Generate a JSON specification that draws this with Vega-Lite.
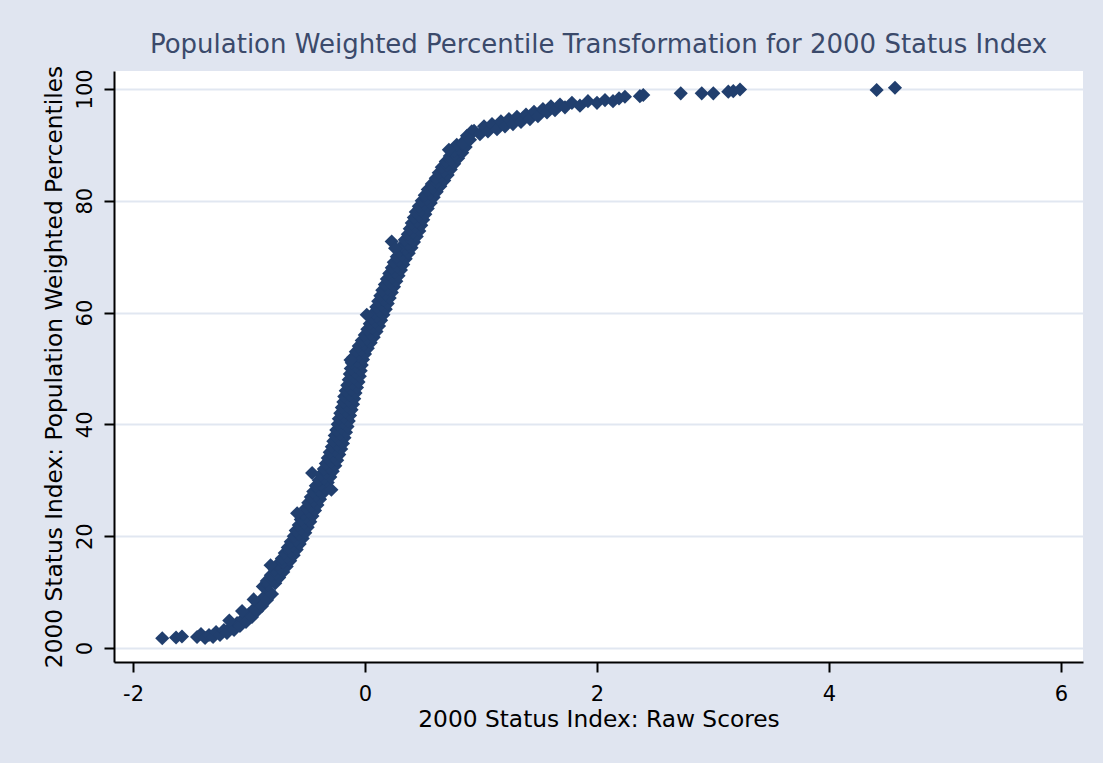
{
  "$schema": "https://vega.github.io/schema/vega-lite/v6.json",
  "width": 969,
  "height": 591,
  "autosize": {"type": "none"},
  "padding": {"left": 114, "top": 71, "right": 20, "bottom": 101},
  "background": "#E0E5F0",
  "title": {
    "text": "Population Weighted Percentile Transformation for 2000 Status Index",
    "font": "DejaVu Sans",
    "fontSize": 26,
    "fontWeight": "normal",
    "color": "#3B4A6B",
    "anchor": "middle",
    "offset": 7
  },
  "config": {
    "view": {"fill": "white", "stroke": null},
    "axis": {
      "domainColor": "#000000",
      "domainWidth": 2,
      "tickColor": "#000000",
      "tickWidth": 2,
      "tickSize": 10,
      "labelFont": "DejaVu Sans",
      "labelFontSize": 21,
      "labelColor": "#000000",
      "titleFont": "DejaVu Sans",
      "titleFontSize": 23.3,
      "titleFontWeight": "normal",
      "titleColor": "#000000"
    }
  },
  "data": {
    "values": [
      {"raw": -1.748, "pct": 1.74},
      {"raw": -1.629, "pct": 1.88},
      {"raw": -1.578, "pct": 2.06},
      {"raw": -1.448, "pct": 1.97},
      {"raw": -1.414, "pct": 2.5},
      {"raw": -1.379, "pct": 1.79},
      {"raw": -1.345, "pct": 2.33},
      {"raw": -1.31, "pct": 1.97},
      {"raw": -1.284, "pct": 2.86},
      {"raw": -1.25, "pct": 2.33},
      {"raw": -1.216, "pct": 3.22},
      {"raw": -1.19, "pct": 2.68},
      {"raw": -1.155, "pct": 3.76},
      {"raw": -1.129, "pct": 3.22},
      {"raw": -1.103, "pct": 4.47},
      {"raw": -1.078, "pct": 3.94},
      {"raw": -1.052, "pct": 5.19},
      {"raw": -1.026, "pct": 4.65},
      {"raw": -1.0, "pct": 6.08},
      {"raw": -0.974, "pct": 5.55},
      {"raw": -0.957, "pct": 6.98},
      {"raw": -0.931, "pct": 6.62},
      {"raw": -0.914, "pct": 8.05},
      {"raw": -0.888, "pct": 7.51},
      {"raw": -0.871, "pct": 9.12},
      {"raw": -0.845, "pct": 8.59},
      {"raw": -0.828, "pct": 10.2},
      {"raw": -0.802, "pct": 9.66},
      {"raw": -1.17, "pct": 4.9},
      {"raw": -1.06, "pct": 6.6},
      {"raw": -0.96, "pct": 8.7},
      {"raw": -0.881, "pct": 11}, {"raw": -0.836, "pct": 11.3}, {"raw": -0.774, "pct": 11.6},
      {"raw": -0.847, "pct": 12}, {"raw": -0.802, "pct": 12.3}, {"raw": -0.74, "pct": 12.6},
      {"raw": -0.812, "pct": 13}, {"raw": -0.767, "pct": 13.3}, {"raw": -0.705, "pct": 13.6},
      {"raw": -0.778, "pct": 14}, {"raw": -0.733, "pct": 14.3}, {"raw": -0.675, "pct": 14.6},
      {"raw": -0.752, "pct": 15}, {"raw": -0.707, "pct": 15.3}, {"raw": -0.645, "pct": 15.6},
      {"raw": -0.717, "pct": 16}, {"raw": -0.672, "pct": 16.3}, {"raw": -0.615, "pct": 16.6},
      {"raw": -0.692, "pct": 17}, {"raw": -0.647, "pct": 17.3}, {"raw": -0.589, "pct": 17.6},
      {"raw": -0.666, "pct": 18}, {"raw": -0.621, "pct": 18.3}, {"raw": -0.563, "pct": 18.6},
      {"raw": -0.64, "pct": 19}, {"raw": -0.595, "pct": 19.3}, {"raw": -0.537, "pct": 19.6},
      {"raw": -0.614, "pct": 20}, {"raw": -0.569, "pct": 20.3}, {"raw": -0.515, "pct": 20.6},
      {"raw": -0.597, "pct": 21}, {"raw": -0.552, "pct": 21.3}, {"raw": -0.494, "pct": 21.6},
      {"raw": -0.571, "pct": 22}, {"raw": -0.526, "pct": 22.3}, {"raw": -0.472, "pct": 22.6},
      {"raw": -0.554, "pct": 23}, {"raw": -0.509, "pct": 23.3}, {"raw": -0.453, "pct": 23.6},
      {"raw": -0.532, "pct": 24}, {"raw": -0.487, "pct": 24.3}, {"raw": -0.431, "pct": 24.6},
      {"raw": -0.511, "pct": 25}, {"raw": -0.466, "pct": 25.3}, {"raw": -0.41, "pct": 25.6},
      {"raw": -0.489, "pct": 26}, {"raw": -0.444, "pct": 26.3}, {"raw": -0.388, "pct": 26.6},
      {"raw": -0.467, "pct": 27}, {"raw": -0.422, "pct": 27.3}, {"raw": -0.367, "pct": 27.6},
      {"raw": -0.446, "pct": 28}, {"raw": -0.401, "pct": 28.3}, {"raw": -0.345, "pct": 28.6},
      {"raw": -0.424, "pct": 29}, {"raw": -0.379, "pct": 29.3}, {"raw": -0.321, "pct": 29.6},
      {"raw": -0.398, "pct": 30}, {"raw": -0.353, "pct": 30.3}, {"raw": -0.299, "pct": 30.6},
      {"raw": -0.381, "pct": 31}, {"raw": -0.336, "pct": 31.3}, {"raw": -0.278, "pct": 31.6},
      {"raw": -0.355, "pct": 32}, {"raw": -0.31, "pct": 32.3}, {"raw": -0.256, "pct": 32.6},
      {"raw": -0.338, "pct": 33}, {"raw": -0.293, "pct": 33.3}, {"raw": -0.24, "pct": 33.6},
      {"raw": -0.321, "pct": 34}, {"raw": -0.276, "pct": 34.3}, {"raw": -0.222, "pct": 34.6},
      {"raw": -0.304, "pct": 35}, {"raw": -0.259, "pct": 35.3}, {"raw": -0.205, "pct": 35.6},
      {"raw": -0.286, "pct": 36}, {"raw": -0.241, "pct": 36.3}, {"raw": -0.19, "pct": 36.6},
      {"raw": -0.273, "pct": 37}, {"raw": -0.228, "pct": 37.3}, {"raw": -0.177, "pct": 37.6},
      {"raw": -0.261, "pct": 38}, {"raw": -0.216, "pct": 38.3}, {"raw": -0.164, "pct": 38.6},
      {"raw": -0.248, "pct": 39}, {"raw": -0.203, "pct": 39.3}, {"raw": -0.151, "pct": 39.6},
      {"raw": -0.235, "pct": 40}, {"raw": -0.19, "pct": 40.3}, {"raw": -0.14, "pct": 40.6},
      {"raw": -0.226, "pct": 41}, {"raw": -0.181, "pct": 41.3}, {"raw": -0.129, "pct": 41.6},
      {"raw": -0.213, "pct": 42}, {"raw": -0.168, "pct": 42.3}, {"raw": -0.116, "pct": 42.6},
      {"raw": -0.2, "pct": 43}, {"raw": -0.155, "pct": 43.3}, {"raw": -0.103, "pct": 43.6},
      {"raw": -0.187, "pct": 44}, {"raw": -0.142, "pct": 44.3}, {"raw": -0.093, "pct": 44.6},
      {"raw": -0.179, "pct": 45}, {"raw": -0.134, "pct": 45.3}, {"raw": -0.082, "pct": 45.6},
      {"raw": -0.166, "pct": 46}, {"raw": -0.121, "pct": 46.3}, {"raw": -0.069, "pct": 46.6},
      {"raw": -0.153, "pct": 47}, {"raw": -0.108, "pct": 47.3}, {"raw": -0.056, "pct": 47.6},
      {"raw": -0.14, "pct": 48}, {"raw": -0.095, "pct": 48.3}, {"raw": -0.045, "pct": 48.6},
      {"raw": -0.131, "pct": 49}, {"raw": -0.086, "pct": 49.3}, {"raw": -0.037, "pct": 49.6},
      {"raw": -0.123, "pct": 50}, {"raw": -0.078, "pct": 50.3}, {"raw": -0.028, "pct": 50.6},
      {"raw": -0.114, "pct": 51}, {"raw": -0.069, "pct": 51.3}, {"raw": -0.017, "pct": 51.6},
      {"raw": -0.101, "pct": 52}, {"raw": -0.056, "pct": 52.3}, {"raw": 0.0, "pct": 52.6},
      {"raw": -0.079, "pct": 53}, {"raw": -0.034, "pct": 53.3}, {"raw": 0.024, "pct": 53.6},
      {"raw": -0.054, "pct": 54}, {"raw": -0.009, "pct": 54.3}, {"raw": 0.049, "pct": 54.6},
      {"raw": -0.028, "pct": 55}, {"raw": 0.017, "pct": 55.3}, {"raw": 0.075, "pct": 55.6},
      {"raw": -0.002, "pct": 56}, {"raw": 0.043, "pct": 56.3}, {"raw": 0.099, "pct": 56.6},
      {"raw": 0.02, "pct": 57}, {"raw": 0.065, "pct": 57.3}, {"raw": 0.121, "pct": 57.6},
      {"raw": 0.041, "pct": 58}, {"raw": 0.086, "pct": 58.3}, {"raw": 0.139, "pct": 58.6},
      {"raw": 0.058, "pct": 59}, {"raw": 0.103, "pct": 59.3}, {"raw": 0.159, "pct": 59.6},
      {"raw": 0.08, "pct": 60}, {"raw": 0.125, "pct": 60.3}, {"raw": 0.179, "pct": 60.6},
      {"raw": 0.097, "pct": 61}, {"raw": 0.142, "pct": 61.3}, {"raw": 0.196, "pct": 61.6},
      {"raw": 0.114, "pct": 62}, {"raw": 0.159, "pct": 62.3}, {"raw": 0.213, "pct": 62.6},
      {"raw": 0.132, "pct": 63}, {"raw": 0.177, "pct": 63.3}, {"raw": 0.231, "pct": 63.6},
      {"raw": 0.149, "pct": 64}, {"raw": 0.194, "pct": 64.3}, {"raw": 0.25, "pct": 64.6},
      {"raw": 0.171, "pct": 65}, {"raw": 0.216, "pct": 65.3}, {"raw": 0.27, "pct": 65.6},
      {"raw": 0.188, "pct": 66}, {"raw": 0.233, "pct": 66.3}, {"raw": 0.289, "pct": 66.6},
      {"raw": 0.209, "pct": 67}, {"raw": 0.254, "pct": 67.3}, {"raw": 0.31, "pct": 67.6},
      {"raw": 0.231, "pct": 68}, {"raw": 0.276, "pct": 68.3}, {"raw": 0.33, "pct": 68.6},
      {"raw": 0.248, "pct": 69}, {"raw": 0.293, "pct": 69.3}, {"raw": 0.351, "pct": 69.6},
      {"raw": 0.274, "pct": 70}, {"raw": 0.319, "pct": 70.3}, {"raw": 0.377, "pct": 70.6},
      {"raw": 0.3, "pct": 71}, {"raw": 0.345, "pct": 71.3}, {"raw": 0.401, "pct": 71.6},
      {"raw": 0.321, "pct": 72}, {"raw": 0.366, "pct": 72.3}, {"raw": 0.422, "pct": 72.6},
      {"raw": 0.343, "pct": 73}, {"raw": 0.388, "pct": 73.3}, {"raw": 0.446, "pct": 73.6},
      {"raw": 0.369, "pct": 74}, {"raw": 0.414, "pct": 74.3}, {"raw": 0.468, "pct": 74.6},
      {"raw": 0.386, "pct": 75}, {"raw": 0.431, "pct": 75.3}, {"raw": 0.485, "pct": 75.6},
      {"raw": 0.403, "pct": 76}, {"raw": 0.448, "pct": 76.3}, {"raw": 0.502, "pct": 76.6},
      {"raw": 0.421, "pct": 77}, {"raw": 0.466, "pct": 77.3}, {"raw": 0.52, "pct": 77.6},
      {"raw": 0.438, "pct": 78}, {"raw": 0.483, "pct": 78.3}, {"raw": 0.541, "pct": 78.6},
      {"raw": 0.464, "pct": 79}, {"raw": 0.509, "pct": 79.3}, {"raw": 0.567, "pct": 79.6},
      {"raw": 0.489, "pct": 80}, {"raw": 0.534, "pct": 80.3}, {"raw": 0.592, "pct": 80.6},
      {"raw": 0.515, "pct": 81}, {"raw": 0.56, "pct": 81.3}, {"raw": 0.618, "pct": 81.6},
      {"raw": 0.541, "pct": 82}, {"raw": 0.586, "pct": 82.3}, {"raw": 0.649, "pct": 82.6},
      {"raw": 0.576, "pct": 83}, {"raw": 0.621, "pct": 83.3}, {"raw": 0.683, "pct": 83.6},
      {"raw": 0.61, "pct": 84}, {"raw": 0.655, "pct": 84.3}, {"raw": 0.713, "pct": 84.6},
      {"raw": 0.636, "pct": 85}, {"raw": 0.681, "pct": 85.3}, {"raw": 0.739, "pct": 85.6},
      {"raw": 0.662, "pct": 86}, {"raw": 0.707, "pct": 86.3}, {"raw": 0.769, "pct": 86.6},
      {"raw": 0.696, "pct": 87}, {"raw": 0.741, "pct": 87.3}, {"raw": 0.803, "pct": 87.6},
      {"raw": 0.731, "pct": 88}, {"raw": 0.776, "pct": 88.3}, {"raw": 0.838, "pct": 88.6},
      {"raw": 0.765, "pct": 89}, {"raw": 0.81, "pct": 89.3}, {"raw": 0.868, "pct": 89.6},
      {"raw": 0.791, "pct": 90}, {"raw": 0.836, "pct": 90.3},
      {"raw": 0.23, "pct": 72.7},
      {"raw": 0.259, "pct": 71.5},
      {"raw": 0.015, "pct": 59.6},
      {"raw": -0.125, "pct": 51.5},
      {"raw": -0.456, "pct": 31.3},
      {"raw": -0.585, "pct": 24.1},
      {"raw": -0.814, "pct": 14.8},
      {"raw": -0.29, "pct": 28.3},
      {"raw": 0.723, "pct": 89.1},
      {"raw": 0.92, "pct": 92.4},
      {"raw": 0.845, "pct": 90.2},
      {"raw": 0.879, "pct": 91.6},
      {"raw": 0.905, "pct": 90.9},
      {"raw": 0.94, "pct": 92.5},
      {"raw": 0.991, "pct": 91.9},
      {"raw": 1.026, "pct": 93.3},
      {"raw": 1.06, "pct": 92.4},
      {"raw": 1.095, "pct": 93.7},
      {"raw": 1.138, "pct": 92.8},
      {"raw": 1.172, "pct": 94.2},
      {"raw": 1.207, "pct": 93.3},
      {"raw": 1.241, "pct": 94.6},
      {"raw": 1.276, "pct": 93.7},
      {"raw": 1.31, "pct": 95.0},
      {"raw": 1.345, "pct": 94.1},
      {"raw": 1.388, "pct": 95.4},
      {"raw": 1.422, "pct": 94.6},
      {"raw": 1.457, "pct": 95.9},
      {"raw": 1.491, "pct": 95.1},
      {"raw": 1.534, "pct": 96.4},
      {"raw": 1.569, "pct": 95.8},
      {"raw": 1.603, "pct": 96.9},
      {"raw": 1.638, "pct": 96.2},
      {"raw": 1.681, "pct": 97.2},
      {"raw": 1.724, "pct": 96.7},
      {"raw": 1.784, "pct": 97.5},
      {"raw": 1.853, "pct": 97.0},
      {"raw": 1.922, "pct": 97.8},
      {"raw": 2.0, "pct": 97.5},
      {"raw": 2.069, "pct": 98.0},
      {"raw": 2.138, "pct": 97.8},
      {"raw": 2.19, "pct": 98.3},
      {"raw": 2.241, "pct": 98.6},
      {"raw": 2.37, "pct": 98.7},
      {"raw": 2.399, "pct": 98.9},
      {"raw": 2.722, "pct": 99.2},
      {"raw": 2.903, "pct": 99.2},
      {"raw": 3.003, "pct": 99.2},
      {"raw": 3.132, "pct": 99.5},
      {"raw": 3.175, "pct": 99.6},
      {"raw": 3.233, "pct": 99.9},
      {"raw": 4.411, "pct": 99.8},
      {"raw": 4.569, "pct": 100.2}
    ]
  },
  "mark": {"type": "point", "shape": "diamond", "filled": true, "size": 200, "color": "#213F6E", "opacity": 1},
  "encoding": {
    "x": {
      "field": "raw",
      "type": "quantitative",
      "scale": {"domain": [-2.164, 6.19], "nice": false, "zero": false},
      "axis": {
        "title": "2000 Status Index: Raw Scores",
        "values": [-2, 0, 2, 4, 6],
        "labelExpr": "datum.value",
        "grid": false,
        "labelPadding": 11,
        "titlePadding": 4
      }
    },
    "y": {
      "field": "pct",
      "type": "quantitative",
      "scale": {"domain": [-2.5, 103.2], "nice": false, "zero": false},
      "axis": {
        "title": "2000 Status Index: Population Weighted Percentiles",
        "values": [0, 20, 40, 60, 80, 100],
        "grid": true,
        "gridColor": "#E1E7F1",
        "gridWidth": 2,
        "labelAngle": -90,
        "labelAlign": "center",
        "labelBaseline": "bottom",
        "labelPadding": 9,
        "titlePadding": 8
      }
    }
  }
}
